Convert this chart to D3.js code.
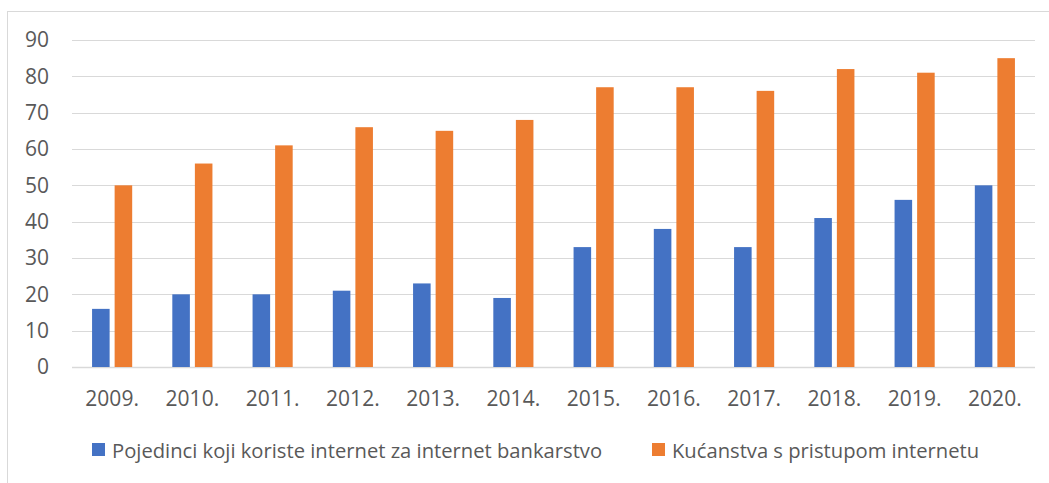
<!DOCTYPE html>
<html>
<head>
<meta charset="utf-8">
<script src="https://cdn.jsdelivr.net/npm/d3@7"></script>
<style>
  html, body { margin: 0; padding: 0; background: #ffffff; }
  svg { display: block; }
  text { font-family: "Open Sans", "Liberation Sans", sans-serif; fill: #595959; }
</style>
</head>
<body>
<svg id="chart" width="1049" height="483"></svg>
<script>
const years = ["2009.", "2010.", "2011.", "2012.", "2013.", "2014.", "2015.", "2016.", "2017.", "2018.", "2019.", "2020."];
const seriesNames = ["Pojedinci koji koriste internet za internet bankarstvo", "Kućanstva s pristupom internetu"];
const banking = [16, 20, 20, 21, 23, 19, 33, 38, 33, 41, 46, 50];
const households = [50, 56, 61, 66, 65, 68, 77, 77, 76, 82, 81, 85];
const seriesColors = ["#4472C4", "#ED7D31"];
const yTicks = [0, 10, 20, 30, 40, 50, 60, 70, 80, 90];

const svg = d3.select("#chart");
const W = 1049, H = 483;

// chart frame
svg.append("rect")
  .attr("x", 7.5).attr("y", 11.5)
  .attr("width", W + 10).attr("height", H + 10)
  .attr("fill", "#ffffff").attr("stroke", "#d9d9d9").attr("stroke-width", 1);

const plotLeft = 72, plotRight = 1035, plotTop = 40, plotBottom = 367;

const x = d3.scaleBand().domain(years).range([plotLeft, plotRight]).paddingInner(0).paddingOuter(0);
const y = d3.scaleLinear().domain([0, 90]).range([plotBottom, plotTop]);
const bw = x.bandwidth();
const x1 = d3.scaleBand().domain([0, 1]).range([bw * 0.25, bw * 0.75]).paddingInner(0.222).paddingOuter(0);

// gridlines
svg.append("g")
  .selectAll("line")
  .data(yTicks)
  .join("line")
  .attr("x1", plotLeft).attr("x2", plotRight)
  .attr("y1", d => Math.round(y(d)) + 0.5)
  .attr("y2", d => Math.round(y(d)) + 0.5)
  .attr("stroke", "#d9d9d9")
  .attr("stroke-width", d => d === 0 ? 1.3 : 1);

// y axis labels
const yAxis = d3.axisLeft(y).tickValues(yTicks).tickSize(0).tickPadding(0);
const gy = svg.append("g").attr("transform", `translate(49,0)`).call(yAxis);
gy.select(".domain").remove();
gy.selectAll("text")
  .attr("font-size", "21px")
  .attr("fill", "#595959")
  .style("font-family", '"Open Sans", sans-serif');

// x axis labels
const xAxis = d3.axisBottom(x).tickSize(0).tickPadding(0);
const gx = svg.append("g").attr("transform", `translate(0,${plotBottom})`).call(xAxis);
gx.select(".domain").remove();
gx.selectAll("text")
  .attr("y", 0)
  .attr("dy", "39px")
  .attr("font-size", "21px")
  .attr("fill", "#595959")
  .style("font-family", '"Open Sans", sans-serif');

// bars
const data = years.map((yr, i) => ({ year: yr, values: [banking[i], households[i]] }));
const groups = svg.append("g").selectAll("g")
  .data(data)
  .join("g")
  .attr("transform", d => `translate(${x(d.year)},0)`);
groups.selectAll("rect")
  .data(d => d.values.map((v, k) => ({ k, v })))
  .join("rect")
  .attr("x", d => x1(d.k))
  .attr("width", x1.bandwidth())
  .attr("y", d => y(d.v))
  .attr("height", d => y(0) - y(d.v))
  .attr("fill", d => seriesColors[d.k]);

// legend
const legendItems = [
  { name: seriesNames[0], color: seriesColors[0], x: 92 },
  { name: seriesNames[1], color: seriesColors[1], x: 652 }
];
const lg = svg.append("g").selectAll("g").data(legendItems).join("g")
  .attr("transform", d => `translate(${d.x},443)`);
lg.append("rect").attr("width", 13).attr("height", 13).attr("fill", d => d.color);
lg.append("text")
  .attr("x", 20).attr("y", 14.5)
  .attr("font-size", "20.2px")
  .text(d => d.name);
</script>
</body>
</html>
